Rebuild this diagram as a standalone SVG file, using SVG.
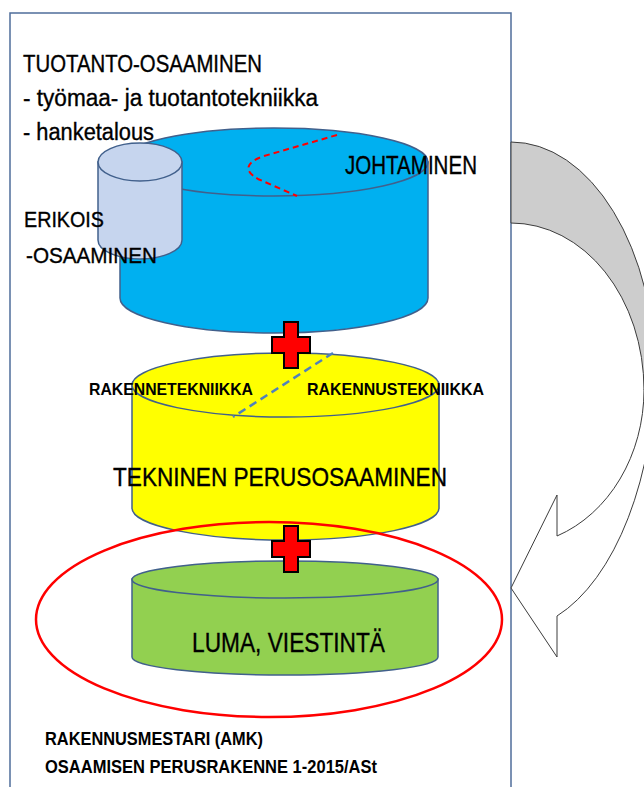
<svg xmlns="http://www.w3.org/2000/svg" width="644" height="787" viewBox="0 0 644 787">
  <style>
    .txt { font-family: "Liberation Sans", Arial, sans-serif; fill: #000; stroke: #000; stroke-width: 0.35; }
    .bold { font-weight: bold; stroke-width: 0; }
    .cyl { stroke: #41608c; stroke-width: 1.5; }
    .plus { fill: #ff0000; stroke: #000; stroke-width: 2; stroke-linejoin: miter; }
    .arrow { stroke: #3c3c3c; stroke-width: 1; stroke-linejoin: miter; }
  </style>
  <defs>
    <path id="plusShape" d="M12,0 H26 V15 H38 V31 H26 V46 H12 V31 H0 V15 H12 Z"/>
  </defs>

  <rect width="644" height="787" fill="#ffffff"/>

  <!-- frame -->
  <rect x="10" y="13" width="501" height="800" fill="none" stroke="#4f6d9a" stroke-width="1.5"/>

  <!-- heading text -->
  <g id="heading">
    <text class="txt" x="23" y="72" font-size="23.5" textLength="239" lengthAdjust="spacingAndGlyphs">TUOTANTO-OSAAMINEN</text>
    <text class="txt" x="23" y="106" font-size="23.5" textLength="295" lengthAdjust="spacingAndGlyphs">- työmaa- ja tuotantotekniikka</text>
    <text class="txt" x="23" y="140" font-size="23.5" textLength="131" lengthAdjust="spacingAndGlyphs">- hanketalous</text>
  </g>

  <!-- management cylinder -->
  <g id="johtaminen">
    <path class="cyl" fill="#00b0f0" d="M120,162 V298 A154,35 0 0 0 428,298 V162 Z"/>
    <ellipse class="cyl" fill="#00b0f0" cx="274" cy="162" rx="154" ry="34"/>
    <path d="M337,135 L264,156 Q236,166 258,179 L297,196" fill="none" stroke="#ff0000" stroke-width="2" stroke-dasharray="6 4"/>
    <text class="txt" x="345" y="174" font-size="25" textLength="132" lengthAdjust="spacingAndGlyphs">JOHTAMINEN</text>
  </g>

  <!-- special expertise cylinder -->
  <g id="erikois">
    <path class="cyl" fill="#c6d5ee" d="M98,162 V240 A42,19 0 0 0 182,240 V162 Z"/>
    <ellipse class="cyl" fill="#c6d5ee" cx="140" cy="162" rx="42" ry="19"/>
    <text class="txt" x="24" y="227" font-size="22" textLength="80" lengthAdjust="spacingAndGlyphs">ERIKOIS</text>
    <text class="txt" x="26" y="263" font-size="22" textLength="131" lengthAdjust="spacingAndGlyphs">-OSAAMINEN</text>
  </g>

  <!-- technical basics cylinder -->
  <g id="tekninen">
    <path class="cyl" fill="#ffff00" d="M132,385 V508 A153.5,32 0 0 0 439,508 V385 Z"/>
    <ellipse class="cyl" fill="#ffff00" cx="285.5" cy="385" rx="153.5" ry="32"/>
    <line x1="333" y1="353" x2="233" y2="417" stroke="#4f81bd" stroke-width="2.5" stroke-dasharray="8 5"/>
    <text class="txt bold" x="89" y="395" font-size="16.5" textLength="164" lengthAdjust="spacingAndGlyphs">RAKENNETEKNIIKKA</text>
    <text class="txt bold" x="307" y="395" font-size="16.5" textLength="177" lengthAdjust="spacingAndGlyphs">RAKENNUSTEKNIIKKA</text>
    <text class="txt" x="113" y="486" font-size="26" textLength="334" lengthAdjust="spacingAndGlyphs">TEKNINEN PERUSOSAAMINEN</text>
  </g>

  <!-- foundation cylinder -->
  <g id="luma">
    <path class="cyl" fill="#92d050" d="M132,579 V657 A153,18 0 0 0 438,657 V579 Z"/>
    <ellipse class="cyl" fill="#92d050" cx="285" cy="579.5" rx="153" ry="18.5"/>
    <text class="txt" x="192" y="652" font-size="27.5" textLength="193" lengthAdjust="spacingAndGlyphs">LUMA, VIESTINTÄ</text>
  </g>

  <!-- highlight ring -->
  <g id="ring">
    <ellipse cx="269" cy="619.5" rx="233" ry="97.5" fill="none" stroke="#ff0000" stroke-width="2.5"/>
  </g>

  <!-- footer -->
  <g id="footer">
    <text class="txt bold" x="45" y="745" font-size="18" textLength="218" lengthAdjust="spacingAndGlyphs">RAKENNUSMESTARI (AMK)</text>
    <text class="txt bold" x="45" y="773" font-size="19" textLength="332" lengthAdjust="spacingAndGlyphs">OSAAMISEN PERUSRAKENNE 1-2015/ASt</text>
  </g>

  <!-- connectors: plus signs and the return arrow -->
  <g id="connectors">
    <use href="#plusShape" class="plus" transform="translate(272,322)"/>
    <use href="#plusShape" class="plus" transform="translate(272,526)"/>
    <path class="arrow" fill="#cdcdcd" d="M511,142 A145,238 0 0 1 656,380 L644,390 A133,167 0 0 0 511,223 Z"/>
    <path class="arrow" fill="#ffffff" d="M644,390 A133,156 0 0 1 557,536 L557,495 L511,588 L557,657 L557,616 A145,273 0 0 0 656,360 Z"/>
  </g>
</svg>
